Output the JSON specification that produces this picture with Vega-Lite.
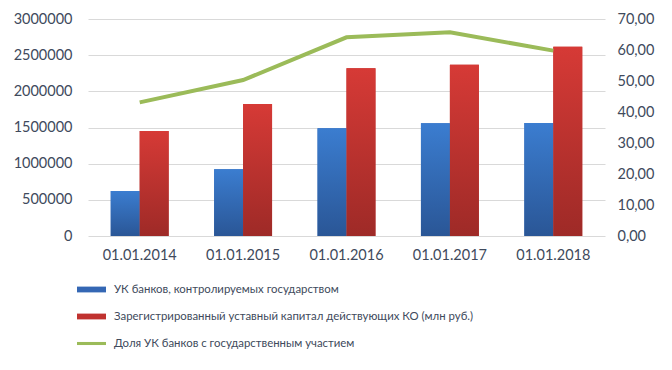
{
  "$schema": "https://vega.github.io/schema/vega-lite/v6.json",
  "width": 517,
  "height": 217,
  "autosize": {"type": "none"},
  "padding": {"left": 88, "top": 19, "right": 67, "bottom": 134},
  "background": "white",
  "config": {
    "view": {"stroke": null},
    "font": "Lato",
    "axis": {"labelFont": "Lato", "labelFontSize": 14.5, "labelColor": "#404a5c", "title": null}
  },
  "datasets": {
    "bars": [
      {"date": "01.01.2014", "series": "УК банков, контролируемых государством", "value": 622000},
      {"date": "01.01.2014", "series": "Зарегистрированный уставный капитал действующих КО (млн руб.)", "value": 1452000},
      {"date": "01.01.2015", "series": "УК банков, контролируемых государством", "value": 922000},
      {"date": "01.01.2015", "series": "Зарегистрированный уставный капитал действующих КО (млн руб.)", "value": 1825000},
      {"date": "01.01.2016", "series": "УК банков, контролируемых государством", "value": 1489000},
      {"date": "01.01.2016", "series": "Зарегистрированный уставный капитал действующих КО (млн руб.)", "value": 2318000},
      {"date": "01.01.2017", "series": "УК банков, контролируемых государством", "value": 1558000},
      {"date": "01.01.2017", "series": "Зарегистрированный уставный капитал действующих КО (млн руб.)", "value": 2368000},
      {"date": "01.01.2018", "series": "УК банков, контролируемых государством", "value": 1562000},
      {"date": "01.01.2018", "series": "Зарегистрированный уставный капитал действующих КО (млн руб.)", "value": 2617000}
    ],
    "share": [
      {"date": "01.01.2014", "series": "Доля УК банков с государственным участием", "share": 43.1},
      {"date": "01.01.2015", "series": "Доля УК банков с государственным участием", "share": 50.3},
      {"date": "01.01.2016", "series": "Доля УК банков с государственным участием", "share": 64.1},
      {"date": "01.01.2017", "series": "Доля УК банков с государственным участием", "share": 65.7},
      {"date": "01.01.2018", "series": "Доля УК банков с государственным участием", "share": 59.8}
    ]
  },
  "layer": [
    {
      "data": {"name": "bars"},
      "mark": {"type": "bar"},
      "encoding": {
        "x": {"field": "date", "type": "nominal", "scale": {"paddingInner": 0.44, "paddingOuter": 0.22},
              "axis": {"labelAngle": 0, "ticks": false, "domain": false, "labelPadding": 12}},
        "xOffset": {"field": "series", "type": "nominal", "scale": {"domain": ["УК банков, контролируемых государством", "Зарегистрированный уставный капитал действующих КО (млн руб.)"], "paddingInner": 0, "paddingOuter": 0}},
        "y": {"field": "value", "type": "quantitative", "scale": {"domain": [0, 3000000]},
              "axis": {"orient": "left", "values": [0, 500000, 1000000, 1500000, 2000000, 2500000, 3000000], "format": "d", "ticks": false, "domain": false, "labelPadding": 16, "grid": true, "gridColor": "#d9d9d9"}},
        "color": {"field": "series", "type": "nominal",
          "scale": {"domain": ["УК банков, контролируемых государством", "Зарегистрированный уставный капитал действующих КО (млн руб.)", "Доля УК банков с государственным участием"], "range": ["#3467b4", "#c0322f", "#9bbb59"]},
          "legend": {"orient": "none", "legendX": -6, "legendY": 261, "direction": "vertical", "title": null,
            "labelFont": "Lato", "labelFontSize": 11.4, "labelColor": "#404a5c", "labelLimit": 0, "symbolSize": 328, "labelOffset": 13, "rowPadding": 12,
            "encode": {"symbols": {"update": {
              "shape": {"signal": "datum.value === 'Доля УК банков с государственным участием' ? 'M-1.6,-0.17H1.6V0.17H-1.6Z' : 'M-1.6,-0.32H1.6V0.32H-1.6Z'"},
              "fill": {"scale": "color", "field": "value"},
              "strokeWidth": {"value": 0},
              "opacity": {"value": 1}}}}}
        }
      }
    },
    {
      "data": {"name": "bars"},
      "mark": {"type": "bar"},
      "encoding": {
        "x": {"field": "date", "type": "nominal"},
        "xOffset": {"field": "series", "type": "nominal"},
        "y": {"field": "value", "type": "quantitative", "scale": {"domain": [0, 3000000]}, "axis": null},
        "color": {
          "condition": {"test": "datum.series === 'УК банков, контролируемых государством'",
            "value": {"gradient": "linear", "x1": 0, "y1": 0, "x2": 0, "y2": 1, "stops": [{"offset": 0, "color": "#3b7dd0"}, {"offset": 1, "color": "#2a5696"}]}},
          "value": {"gradient": "linear", "x1": 0, "y1": 0, "x2": 0, "y2": 1, "stops": [{"offset": 0, "color": "#d63a36"}, {"offset": 1, "color": "#9e2a27"}]}
        }
      }
    },
    {
      "data": {"name": "share"},
      "mark": {"type": "line", "strokeWidth": 4, "interpolate": "linear"},
      "encoding": {
        "x": {"field": "date", "type": "nominal"},
        "y": {"field": "share", "type": "quantitative", "scale": {"domain": [0, 70]},
              "axis": {"orient": "right", "values": [0, 10, 20, 30, 40, 50, 60, 70], "labelExpr": "replace(format(datum.value, '.2f'), '.', ',')", "ticks": false, "domain": false, "grid": false, "labelPadding": 12}},
        "color": {"field": "series", "type": "nominal"}
      }
    }
  ],
  "resolve": {"scale": {"y": "independent"}}
}
